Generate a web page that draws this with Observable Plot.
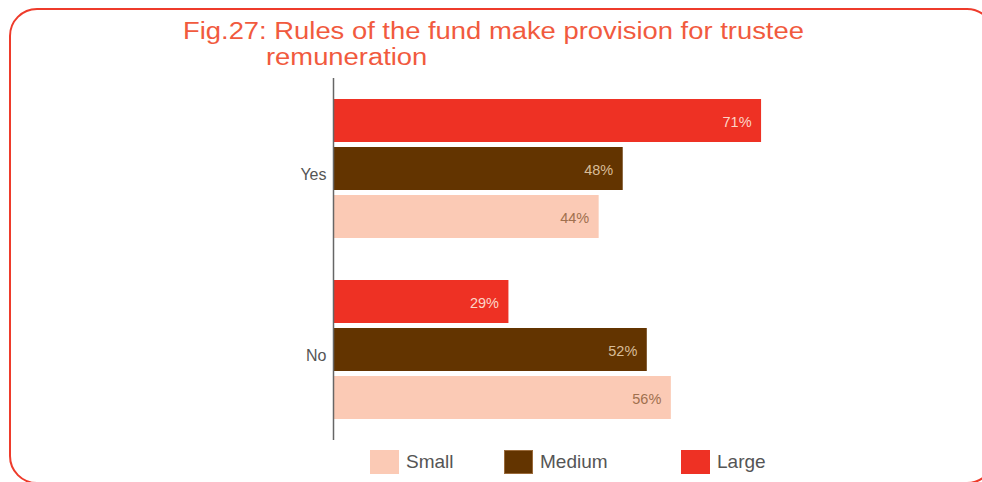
<!DOCTYPE html>
<html>
<head>
<meta charset="utf-8">
<script src="https://cdn.jsdelivr.net/npm/d3@7"></script>
<script src="https://cdn.jsdelivr.net/npm/@observablehq/plot@0.6"></script>
<style>
  html, body { margin: 0; padding: 0; width: 982px; height: 482px; overflow: hidden; background: #fff; }
  #wrap { position: relative; width: 982px; height: 482px; overflow: hidden; font-family: "Liberation Sans", Arial, Helvetica, sans-serif; }
  #frame { position: absolute; left: 9px; top: 8px; width: 986px; height: 476px; border: 2.5px solid #ee3b2b; border-radius: 28px; box-sizing: border-box; }
  .title { position: absolute; font-size: 23.5px; line-height: 23px; color: #f15a3e; white-space: nowrap; transform: scaleX(1.165); transform-origin: 0 0; }
  #chart { position: absolute; left: 0; top: 0; }
  .leg { position: absolute; top: 450px; height: 24px; display: flex; align-items: center; font-size: 19px; color: #555; white-space: nowrap; }
  .sw { width: 29px; height: 24px; box-sizing: border-box; margin-right: 7px; }
</style>
</head>
<body>
<div id="wrap">
  <div id="frame"></div>
  <div class="title" style="left:183px; top:20px;">Fig.27: Rules of the fund make provision for trustee</div>
  <div class="title" style="left:266px; top:46px;">remuneration</div>
  <div id="chart"></div>
</div>
<script>
// ---- data ----
const answers = ["Yes", "No"];
const sizes = ["Small", "Medium", "Large"];
const smallValues = [44, 56];
const mediumValues = [48, 52];
const largeValues = [71, 29];

// ---- styles ----
const barColors = ["#fbcab5", "#633400", "#ee3124"];
const labelColors = {Small: "#a0704e", Medium: "#d8bc98", Large: "#fcd6c8"};
const legendLeft = [370, 504, 681];

const seriesValues = {Small: smallValues, Medium: mediumValues, Large: largeValues};
const rows = [];
answers.forEach((a, i) => {
  ["Large", "Medium", "Small"].forEach(s => {
    rows.push({answer: a, size: s, value: seriesValues[s][i]});
  });
});

const chart = Plot.plot({
  width: 982,
  height: 450,
  marginTop: 78,
  marginBottom: 10,
  marginLeft: 334,
  marginRight: 46.5,
  style: {fontSize: "16px", color: "#555", fontFamily: "'Liberation Sans', Arial, sans-serif", background: "transparent"},
  facet: {data: rows, y: "answer"},
  fy: {domain: answers, padding: 0, axis: "left", tickSize: 0, tickPadding: 8, label: null},
  y: {domain: ["Large", "Medium", "Small"], paddingInner: 0.1, paddingOuter: 0.435, axis: null},
  x: {domain: [0, 100], axis: null},
  color: {domain: sizes, range: barColors},
  marks: [
    Plot.barX(rows, {x: "value", y: "size", fill: "size"}),
    ...sizes.map(s => Plot.text(rows, {
      filter: d => d.size === s,
      x: "value", y: "size",
      text: d => d.value + "%",
      textAnchor: "end", dx: -10, dy: 1,
      fill: labelColors[s],
      fontSize: 14.5
    })),
    Plot.ruleX([0], {stroke: "#666", strokeWidth: 1.5, dx: -1})
  ]
});
chart.querySelectorAll("[aria-label='fy-axis tick label'] text, [aria-label='fy-axis'] text").forEach(t => t.setAttribute("dy", "0.38em"));
document.getElementById("chart").appendChild(chart);

// legend
const wrap = document.getElementById("wrap");
sizes.forEach((s, i) => {
  const item = document.createElement("div");
  item.className = "leg";
  item.style.left = legendLeft[i] + "px";
  const sw = document.createElement("div");
  sw.className = "sw";
  sw.style.background = barColors[i];
  if (s === "Medium") sw.style.border = "1px solid #9a6a3a";
  item.appendChild(sw);
  const t = document.createElement("span");
  t.textContent = s;
  item.appendChild(t);
  wrap.appendChild(item);
});
</script>
</body>
</html>
